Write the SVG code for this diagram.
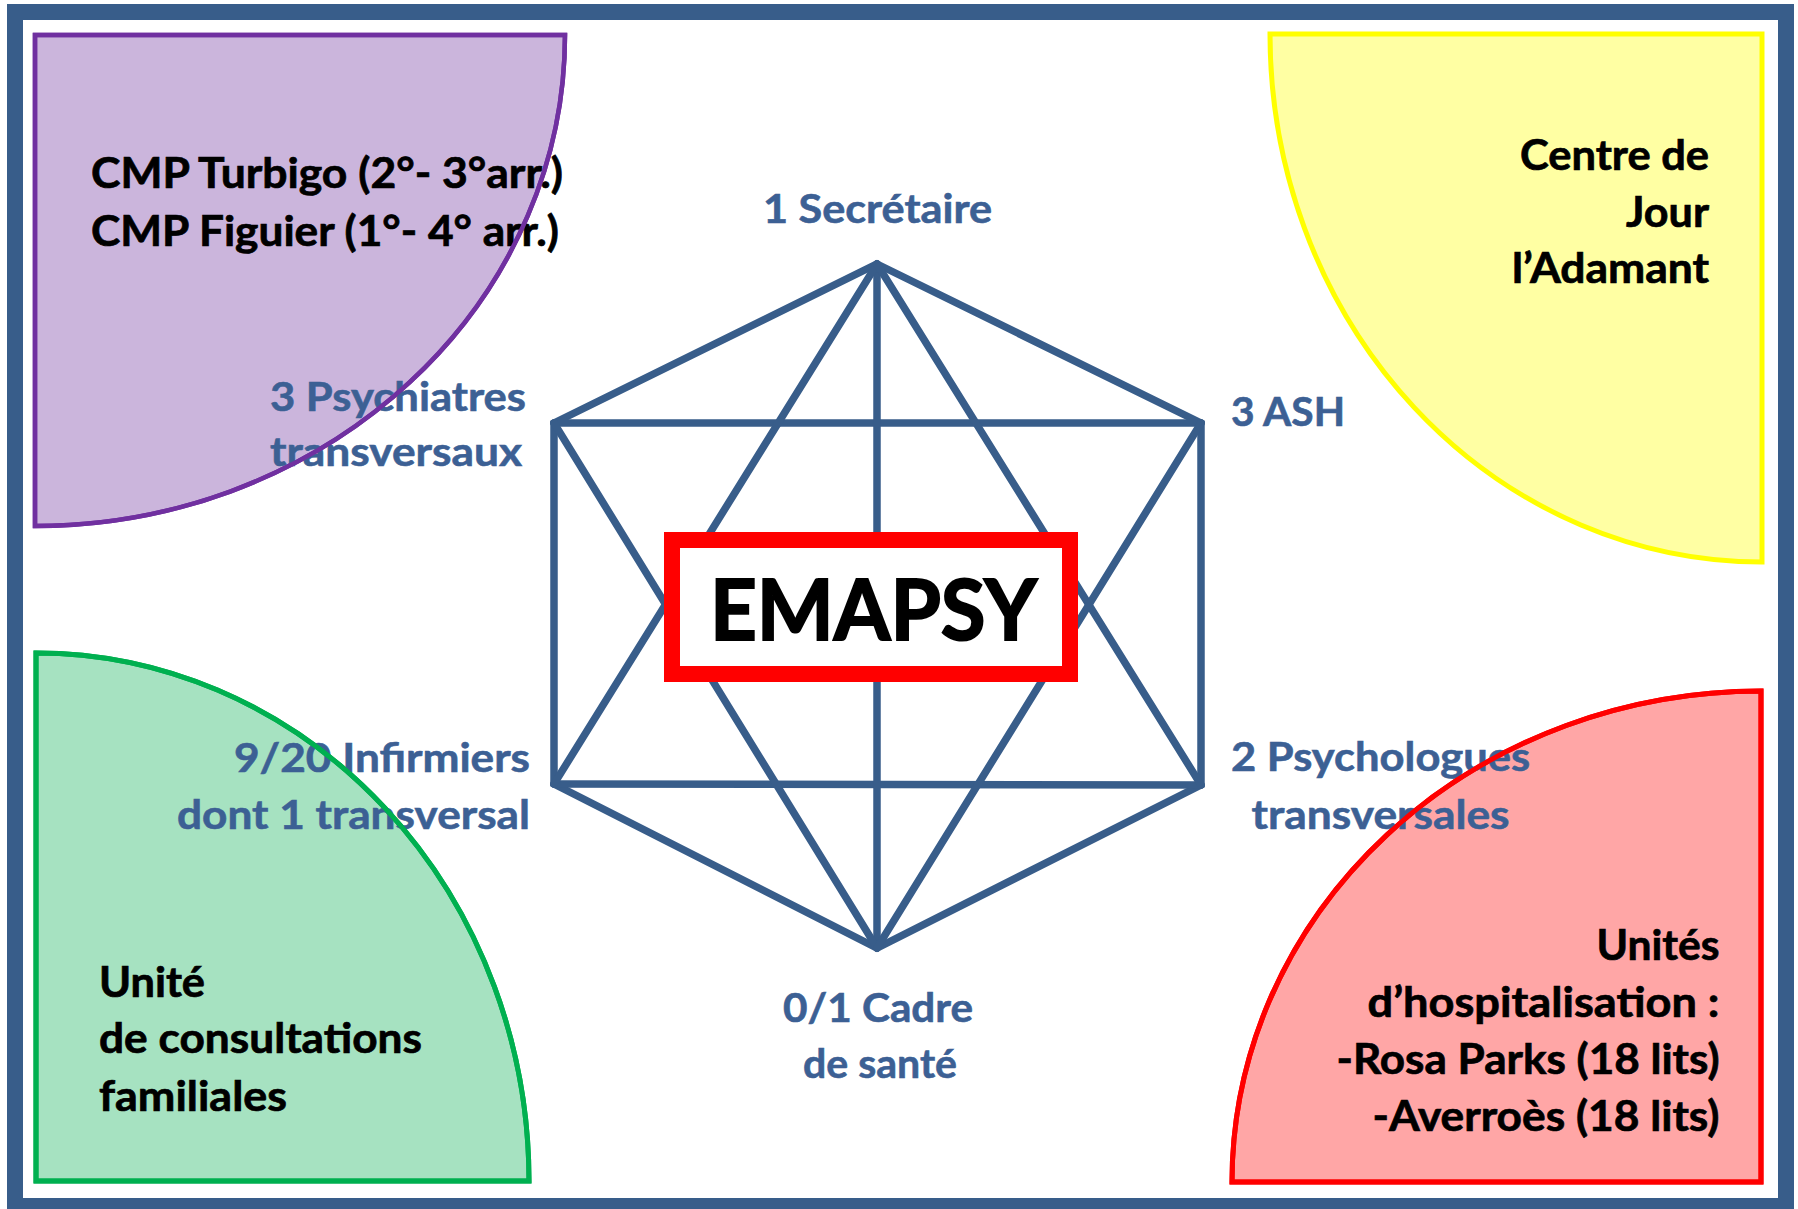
<svg xmlns="http://www.w3.org/2000/svg" xmlns:xlink="http://www.w3.org/1999/xlink" width="1798" height="1209" viewBox="0 0 1798 1209">
  <defs>
    <style>
      .t { font-family: Lato, "Liberation Sans", sans-serif; font-weight: 700; }
      .blk { fill: #000000; stroke: #000000; stroke-width: 0.7; font-size: 42px; }
      .role { fill: #3C6094; stroke: #3C6094; stroke-width: 0.6; font-size: 41px; }
      .link { stroke: #385D8A; stroke-width: 7.5; fill: none; stroke-linecap: round; stroke-linejoin: miter; }
      .outline { fill: none; }
    </style>
    <path id="cmp-shape" d="M35,35 H565 A530,491 0 0 1 35,526 Z"/>
    <path id="cdj-shape" d="M1762,34 V562 A492,528 0 0 1 1270,34 Z"/>
    <path id="ucf-shape" d="M36,1181 V653 A493,528 0 0 1 529,1181 Z"/>
    <path id="uh-shape" d="M1761,1182 H1232 A529,491 0 0 1 1761,691 Z"/>
  </defs>

  <!-- background and outer frame -->
  <rect x="0" y="0" width="1798" height="1209" fill="#FFFFFF"/>
  <rect id="frame" x="15" y="12" width="1771" height="1194" fill="#FFFFFF" stroke="#385D8A" stroke-width="16"/>

  <!-- corner sectors -->
  <g id="cmp">
    <use xlink:href="#cmp-shape" fill="#CBB5DC" stroke="#7030A0" stroke-width="4.5"/>
    <text class="t blk" x="91" y="187.5" textLength="472" lengthAdjust="spacingAndGlyphs">CMP Turbigo (2°- 3°arr.)</text>
    <text class="t blk" x="91" y="245.5" textLength="468" lengthAdjust="spacingAndGlyphs">CMP Figuier (1°- 4° arr.)</text>
  </g>

  <g id="centre-de-jour">
    <use xlink:href="#cdj-shape" fill="#FFFFA3" stroke="#FFFF00" stroke-width="5"/>
    <text class="t blk" x="1709" y="169.5" text-anchor="end" textLength="189" lengthAdjust="spacingAndGlyphs">Centre de</text>
    <text class="t blk" x="1709" y="226.5" text-anchor="end" textLength="83" lengthAdjust="spacingAndGlyphs">Jour</text>
    <text class="t blk" x="1709" y="283" text-anchor="end" textLength="197" lengthAdjust="spacingAndGlyphs">l’Adamant</text>
  </g>

  <g id="consultations-familiales">
    <use xlink:href="#ucf-shape" fill="#A6E2C1" stroke="#00B050" stroke-width="5"/>
    <text class="t blk" x="99" y="996.5" textLength="106" lengthAdjust="spacingAndGlyphs">Unité</text>
    <text class="t blk" x="99" y="1053" textLength="323" lengthAdjust="spacingAndGlyphs">de consultations</text>
    <text class="t blk" x="99" y="1110.5" textLength="188" lengthAdjust="spacingAndGlyphs">familiales</text>
  </g>

  <g id="hospitalisation">
    <use xlink:href="#uh-shape" fill="#FFA6A6" stroke="#FF0000" stroke-width="5"/>
    <text class="t blk" x="1719.5" y="959.5" text-anchor="end" textLength="123" lengthAdjust="spacingAndGlyphs">Unités</text>
    <text class="t blk" x="1719.5" y="1016.5" text-anchor="end" textLength="352" lengthAdjust="spacingAndGlyphs">d’hospitalisation :</text>
    <text class="t blk" x="1719.5" y="1074" text-anchor="end" textLength="383" lengthAdjust="spacingAndGlyphs">-Rosa Parks (18 lits)</text>
    <text class="t blk" x="1719.5" y="1131" text-anchor="end" textLength="347" lengthAdjust="spacingAndGlyphs">-Averroès (18 lits)</text>
  </g>

  <!-- hexagon of links between the team roles -->
  <g id="connectors">
    <polygon class="link" points="877,264 1201,423 1201,785 877,948 554,784 554,423"/>
    <line class="link" x1="554" y1="423" x2="1201" y2="423"/>
    <line class="link" x1="554" y1="784" x2="1201" y2="785"/>
    <line class="link" x1="877" y1="264" x2="877" y2="948"/>
    <line class="link" x1="877" y1="264" x2="554" y2="784"/>
    <line class="link" x1="877" y1="264" x2="1201" y2="785"/>
    <line class="link" x1="877" y1="948" x2="554" y2="423"/>
    <line class="link" x1="877" y1="948" x2="1201" y2="423"/>
  </g>

  <!-- team roles at the hexagon vertices -->
  <g id="secretaire">
    <text class="t role" x="877.5" y="223" text-anchor="middle" textLength="229" lengthAdjust="spacingAndGlyphs">1 Secrétaire</text>
  </g>
  <g id="ash">
    <text class="t role" x="1231" y="425.5" textLength="114" lengthAdjust="spacingAndGlyphs">3 ASH</text>
  </g>
  <g id="psychiatres">
    <text class="t role" x="270" y="410.5" textLength="256" lengthAdjust="spacingAndGlyphs">3 Psychiatres</text>
    <text class="t role" x="270" y="466" textLength="252" lengthAdjust="spacingAndGlyphs">transversaux</text>
  </g>
  <g id="infirmiers">
    <text class="t role" x="530" y="772" text-anchor="end" textLength="296" lengthAdjust="spacingAndGlyphs">9/20 Infirmiers</text>
    <text class="t role" x="530" y="829" text-anchor="end" textLength="353" lengthAdjust="spacingAndGlyphs">dont 1 transversal</text>
  </g>
  <g id="psychologues">
    <text class="t role" x="1380.5" y="771" text-anchor="middle" textLength="299" lengthAdjust="spacingAndGlyphs">2 Psychologues</text>
    <text class="t role" x="1380.5" y="828.5" text-anchor="middle" textLength="258" lengthAdjust="spacingAndGlyphs">transversales</text>
  </g>
  <g id="cadre">
    <text class="t role" x="878" y="1022" text-anchor="middle" textLength="190" lengthAdjust="spacingAndGlyphs">0/1 Cadre</text>
    <text class="t role" x="880" y="1078" text-anchor="middle" textLength="154" lengthAdjust="spacingAndGlyphs">de santé</text>
  </g>

  <!-- sector outlines run over the role labels -->
  <g id="sector-outlines" class="outline">
    <use xlink:href="#cmp-shape" stroke="#7030A0" stroke-width="4.5"/>
    <use xlink:href="#ucf-shape" stroke="#00B050" stroke-width="5"/>
    <use xlink:href="#uh-shape" stroke="#FF0000" stroke-width="5"/>
  </g>

  <!-- central team box -->
  <g id="emapsy">
    <rect x="672" y="540" width="398" height="134" fill="#FFFFFF" stroke="#FF0000" stroke-width="16"/>
    <text class="t" x="873.5" y="640" text-anchor="middle" font-size="85" fill="#000000" stroke="#000000" stroke-width="2" textLength="327" lengthAdjust="spacingAndGlyphs">EMAPSY</text>
  </g>
</svg>
